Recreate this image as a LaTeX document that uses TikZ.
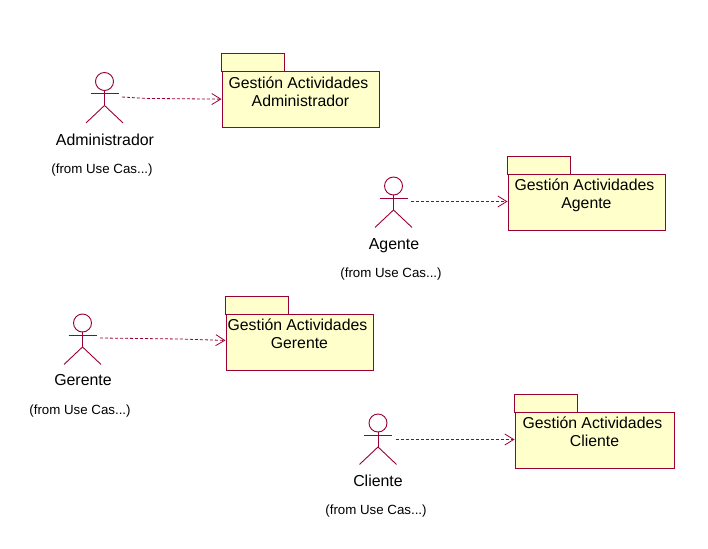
\documentclass[tikz,border=0pt]{standalone}
\usepackage{fontspec}
\setmainfont{Liberation Sans}
\usetikzlibrary{arrows.meta}
\definecolor{umlline}{HTML}{990033}
\definecolor{umlfill}{HTML}{FFFFCC}
\newcommand{\pkgtext}[1]{Gestión Actividades\hspace*{4pt}\\#1\\[-2pt]\mbox{}}
\tikzset{
  x=1pt,y=-1pt,
  umlstroke/.style={draw=umlline,line width=0.9pt},
  pkgbody/.style={umlstroke,fill=umlfill,anchor=north west,inner sep=0pt,minimum height=56pt,align=center,font=\fontsize{15.8}{18}\selectfont},
  pkgtab/.style={umlstroke,fill=umlfill,anchor=north west,inner sep=0pt,minimum height=18pt,minimum width=63pt},
  head/.style={umlstroke,circle,inner sep=0pt,minimum size=18pt},
  actorname/.style={inner sep=0pt,text height=11.5pt,text depth=3pt,font=\fontsize{15.9}{16}\selectfont},
  fromlabel/.style={inner sep=0pt,text height=10pt,text depth=3pt,font=\fontsize{13.3}{14}\selectfont},
  dep/.style={draw=umlline,line width=0.8pt,dash pattern=on 3pt off 2pt,-{Straight Barb[length=9pt,width=11pt,line width=0.8pt]}},
}
% #1 name, #2 x, #3 head y
\newcommand{\actorfig}[3]{%
  \node[head] (#1) at (#2,#3) {};
  \draw[umlstroke] (#1.south) -- ++(0,14.5) coordinate (#1hip);
  \draw[umlstroke] ([xshift=-14pt,yshift=-2.5pt]#1.south) -- ([xshift=14pt,yshift=-2.5pt]#1.south);
  \draw[umlstroke] (#1hip) -- ++(-18.5,17.5);
  \draw[umlstroke] (#1hip) -- ++(18.5,17.5);
}
\begin{document}
\begin{tikzpicture}
\useasboundingbox (0,0) rectangle (708,548);

\node[pkgtab] (tabA) at (220.5,53.5) {};
\node[pkgbody,minimum width=157pt] (pkgA) at (221.5,71.5) {\pkgtext{Administrador}};
\actorfig{admin}{104.5}{81.5}
\coordinate (adminS) at (122,97);
\node[actorname] (adminN) at (105,141) {Administrador};
\node[fromlabel] (adminF) at (102,169.5) {(from Use Cas...)};
\draw[dep] (adminS) -- ++(24,1.4) -- ([yshift=0.8pt]pkgA.west);

\node[pkgtab] (tabB) at (506.5,155.5) {};
\node[pkgbody,minimum width=157pt] (pkgB) at (507.5,173.5) {\pkgtext{Agente}};
\actorfig{agente}{393.5}{186}
\coordinate (agenteS) at (411,201.5);
\node[actorname] (agenteN) at (394,245) {Agente};
\node[fromlabel] (agenteF) at (391,273.5) {(from Use Cas...)};
\draw[dep] (agenteS) -- (agenteS -| pkgB.west);

\node[pkgtab] (tabC) at (224.5,295.5) {};
\node[pkgbody,minimum width=147pt] (pkgC) at (225.5,313.5) {\pkgtext{Gerente}};
\actorfig{gerente}{82.5}{323}
\coordinate (gerenteS) at (100,338);
\node[actorname] (gerenteN) at (83,381) {Gerente};
\node[fromlabel] (gerenteF) at (80,410.5) {(from Use Cas...)};
\draw[dep] (gerenteS) -- ++(80,1) -- ([yshift=1.5pt]pkgC.west);

\node[pkgtab] (tabD) at (513.5,393.5) {};
\node[pkgbody,minimum width=159pt] (pkgD) at (514.5,411.5) {\pkgtext{Cliente}};
\actorfig{cliente}{378}{423}
\coordinate (clienteS) at (395.5,439.5);
\node[actorname] (clienteN) at (378,482) {Cliente};
\node[fromlabel] (clienteF) at (376,510.5) {(from Use Cas...)};
\draw[dep] (clienteS) -- (clienteS -| pkgD.west);
\end{tikzpicture}
\end{document}
